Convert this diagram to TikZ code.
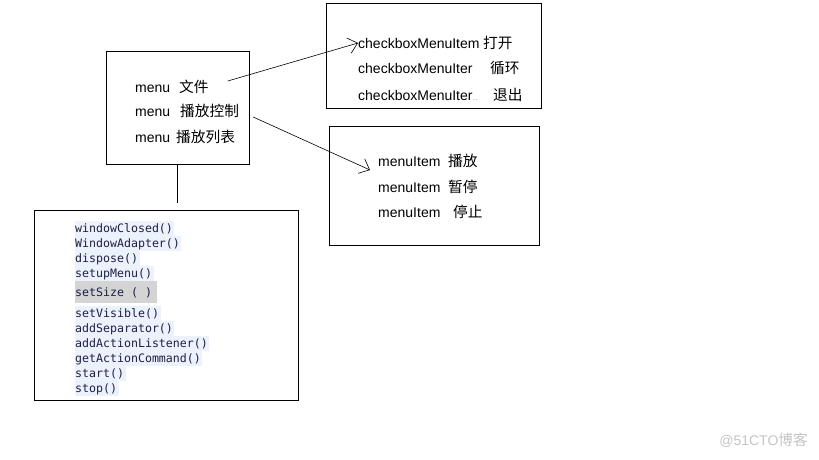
\documentclass[tikz,border=0pt]{standalone}
\usepackage{fontspec}
\setmainfont{Liberation Sans}
\setmonofont{DejaVu Sans Mono}
\newfontfamily\cjk{Noto Sans CJK SC}[Scale=1.05]
\usepackage{xcolor}
\usetikzlibrary{positioning,arrows.meta}

\definecolor{hlblue}{HTML}{ECF2FB}
\definecolor{hlgray}{HTML}{D4D4D4}
\definecolor{codeink}{HTML}{1E1E48}
\definecolor{markgray}{HTML}{C4C4C4}

% one highlighted line of the method list
\newcommand{\hlrow}[1]{{\fboxsep=0pt\colorbox{hlblue}{\rule[-4pt]{0pt}{15pt}#1\hspace{1.5pt}}}}
\newcommand{\hlgrayrow}[1]{{\fboxsep=0pt\colorbox{hlgray}{\rule[-6.5pt]{0pt}{22pt}#1\hspace{5pt}}}}
\newcommand{\codefont}{\fontsize{11.6}{15}\ttfamily\setlength{\lineskip}{0pt}\setlength{\lineskiplimit}{0pt}}
% latin part of a menu line, padded to a fixed width
\newcommand{\lat}[2]{\makebox[#1][l]{#2}}

\begin{document}
\begin{tikzpicture}[
  x=1pt, y=-1pt,
  box/.style={rectangle, draw, line width=0.8pt, inner sep=0pt},
  item/.style={anchor=west, inner sep=0pt, font=\fontsize{14}{16}\selectfont},
  methods/.style={anchor=north west, inner sep=0pt, align=left, text=codeink, font=\codefont},
  arrow/.style={-{Straight Barb[length=9pt,width=16pt]}, line width=0.6pt}
]
\useasboundingbox (0,0) rectangle (819,460);

% menu box
\node[box, minimum width=143pt, minimum height=113pt] (menubox) at (177.5,107.5) {};
\node[item] (file) at (135,87) {\lat{44pt}{menu}{\cjk 文件}};
\node[item] (ctrl) at (135,111) {\lat{45pt}{menu}{\cjk 播放控制}};
\node[item] (list) at (135,137) {\lat{41pt}{menu}{\cjk 播放列表}};

% checkboxMenuItem box
\node[box, minimum width=215pt, minimum height=105pt] (chkbox) at (433.5,55.5) {};
\node[item] (chk1) at (358,43) {\lat{125pt}{checkboxMenuItem}{\cjk 打开}};
\node[item] (chk2) at (358,68) {\lat{132pt}{checkboxMenuIter}{\cjk 循环}};
\node[item] (chk3) at (358,95) {\lat{135pt}{checkboxMenuIter{\tiny\,.\,.}}{\cjk 退出}};

% menuItem box
\node[box, minimum width=210pt, minimum height=119pt] (itembox) at (434,185.5) {};
\node[item] (it1) at (378,161) {\lat{70pt}{menuItem}{\cjk 播放}};
\node[item] (it2) at (378,187) {\lat{70pt}{menuItem}{\cjk 暂停}};
\node[item] (it3) at (378,212) {\lat{75pt}{menuItem}{\cjk 停止}};

% method list box
\node[box, minimum width=264pt, minimum height=190pt] (methodbox) at (166,305) {};
\node[methods] (calls) at (75,221) {\hlrow{windowClosed()}\\
  \hlrow{WindowAdapter()}\\
  \hlrow{dispose()}\\
  \hlrow{setupMenu()}\\
  \hlgrayrow{setSize ( )}\\[3pt]
  \hlrow{setVisible()}\\
  \hlrow{addSeparator()}\\
  \hlrow{addActionListener()}\\
  \hlrow{getActionCommand()}\\
  \hlrow{start()}\\
  \hlrow{stop()}};

% connectors
\coordinate (stub) at (177.5,203);
\draw[line width=0.8pt] (menubox.south) -- (stub);
\draw[arrow] ([xshift=19pt,yshift=6pt]file.east) -- (chk1.west);
\draw[arrow] ([xshift=14pt,yshift=-6pt]ctrl.east) -- ([xshift=-8pt,yshift=-9pt]it1.west);

% watermark
\node[anchor=east, inner sep=0pt, text=markgray, font=\fontsize{14}{16}\selectfont] (mark) at (808,440) {@51CTO{\cjk 博客}};
\end{tikzpicture}
\end{document}
